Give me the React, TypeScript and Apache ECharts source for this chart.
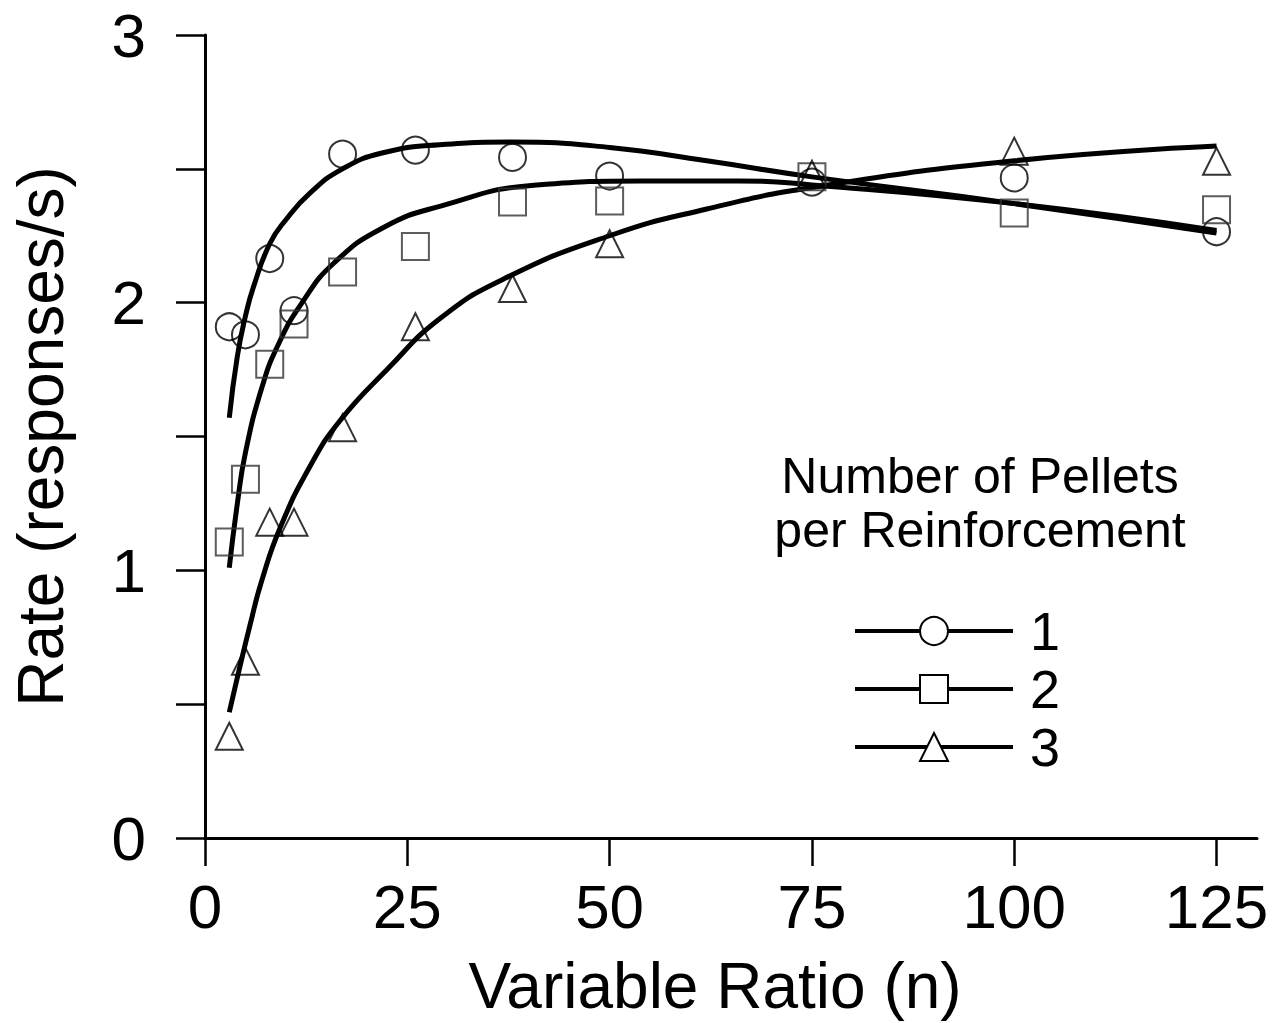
import React, { useEffect, useRef } from 'react';
import * as echarts from 'echarts';

// Observed data points (Variable Ratio n vs response rate)
const ratioValues = [3, 5, 8, 11, 17, 26, 38, 50, 75, 100, 125];
const pellets1Rates = [1.91, 1.88, 2.165, 1.97, 2.555, 2.57, 2.543, 2.473, 2.45, 2.466, 2.265];
const pellets2Rates = [1.106, 1.34, 1.77, 1.92, 2.115, 2.21, 2.376, 2.38, 2.47, 2.335, 2.347];
const pellets3Rates = [0.38, 0.66, 1.18, 1.18, 1.533, 1.91, 2.053, 2.22, 2.48, 2.566, 2.528];

// Fitted curves
const fit1X = [3, 4, 5, 6, 8, 10, 13, 17, 22, 29, 38, 50, 62, 75, 100, 125];
const fit1Y = [1.57, 1.8, 1.95, 2.06, 2.22, 2.31, 2.41, 2.5, 2.56, 2.59, 2.6, 2.58, 2.53, 2.47, 2.37, 2.26];
const fit2X = [3, 4, 5, 7, 9, 12, 16, 22, 29, 41, 54, 66, 75, 100, 125];
const fit2Y = [1.01, 1.25, 1.44, 1.68, 1.84, 2.0, 2.15, 2.28, 2.36, 2.44, 2.455, 2.455, 2.44, 2.37, 2.27];
const fit3X = [3, 4, 5.6, 7, 9.3, 13, 16.7, 22.5, 29, 37, 50, 62, 75, 100, 125];
const fit3Y = [0.47, 0.6, 0.8, 0.96, 1.16, 1.39, 1.56, 1.75, 1.94, 2.09, 2.25, 2.35, 2.43, 2.53, 2.585];

const xTicks = [0, 25, 50, 75, 100, 125];
const yLabelTicks = [0, 1, 2, 3];
const legendNames = ['1', '2', '3'];

const FONT = '"Liberation Sans", Arial, Helvetica, sans-serif';

const zip = (xs: number[], ys: number[]) => xs.map((x, i) => [x, ys[i]]);

export default function App() {
  const ref = useRef<HTMLDivElement>(null);

  useEffect(() => {
    if (!ref.current) return;
    const chart = echarts.init(ref.current, undefined, { renderer: 'svg' });

    const lineSeries = (name: string, xs: number[], ys: number[], symbol: string) => ({
      name,
      type: 'line',
      data: zip(xs, ys),
      smooth: 0.5,
      showSymbol: false,
      symbol,
      lineStyle: { color: '#000', width: 5 },
      itemStyle: { color: '#000' },
      z: 2,
    });

    const scatterSeries = (name: string, ys: number[], symbol: string, stroke: string) => ({
      name,
      type: 'scatter',
      data: zip(ratioValues, ys),
      symbol,
      symbolSize: 27,
      itemStyle: { color: 'transparent', borderColor: stroke, borderWidth: 2 },
      z: 3,
    });

    const titleText = (text: string, y: number) => ({
      type: 'text',
      x: 980,
      y,
      style: {
        text,
        font: `50px ${FONT}`,
        fill: '#000',
        align: 'center',
        textAlign: 'center',
        verticalAlign: 'middle',
      },
    });

    chart.setOption({
      animation: false,
      backgroundColor: '#fff',
      grid: { left: 205, top: 35, width: 1052, height: 808, containLabel: false },
      xAxis: {
        type: 'value',
        min: 0,
        max: 130,
        interval: 25,
        name: 'Variable Ratio (n)',
        nameLocation: 'middle',
        nameGap: 116,
        nameTextStyle: { fontSize: 64, fontFamily: FONT, color: '#000', padding: [0, 32, 0, 0] },
        axisLine: { show: true, onZero: false, lineStyle: { color: '#000', width: 3 } },
        axisTick: { show: true, inside: false, length: 28, customValues: xTicks, lineStyle: { color: '#000', width: 2.5 } },
        axisLabel: { customValues: xTicks, fontSize: 62, fontFamily: FONT, color: '#000', margin: 37 },
        splitLine: { show: false },
      },
      yAxis: {
        type: 'value',
        min: 0,
        max: 3,
        interval: 0.5,
        name: 'Rate (responses/s)',
        nameLocation: 'middle',
        nameGap: 132,
        nameTextStyle: { fontSize: 64, fontFamily: FONT, color: '#000' },
        axisLine: { show: true, onZero: false, lineStyle: { color: '#000', width: 3 } },
        axisTick: { show: true, inside: false, length: 29, lineStyle: { color: '#000', width: 2.5 } },
        axisLabel: { customValues: yLabelTicks, fontSize: 62, fontFamily: FONT, color: '#000', margin: 59 },
        splitLine: { show: false },
      },
      legend: {
        data: legendNames,
        orient: 'vertical',
        left: 853,
        top: 604,
        padding: 0,
        itemWidth: 158,
        itemHeight: 35,
        itemGap: 4,
        selectedMode: false,
        lineStyle: { width: 4 },
        textStyle: { fontSize: 54, fontFamily: FONT, color: '#000', lineHeight: 35, padding: [0, 0, 0, 12] },
      },
      graphic: [
        titleText('Number of Pellets', 476),
        titleText('per Reinforcement', 530),
      ],
      series: [
        lineSeries('1', fit1X, fit1Y, 'emptyCircle'),
        lineSeries('2', fit2X, fit2Y, 'emptyRect'),
        lineSeries('3', fit3X, fit3Y, 'emptyTriangle'),
        scatterSeries('pts1', pellets1Rates, 'circle', '#000'),
        scatterSeries('pts2', pellets2Rates, 'rect', '#333'),
        scatterSeries('pts3', pellets3Rates, 'triangle', '#000'),
      ],
    });

    return () => chart.dispose();
  }, []);

  return (
    <div
      ref={ref}
      style={{ position: 'fixed', left: 0, top: 0, width: 1274, height: 1023, background: '#fff' }}
    />
  );
}
